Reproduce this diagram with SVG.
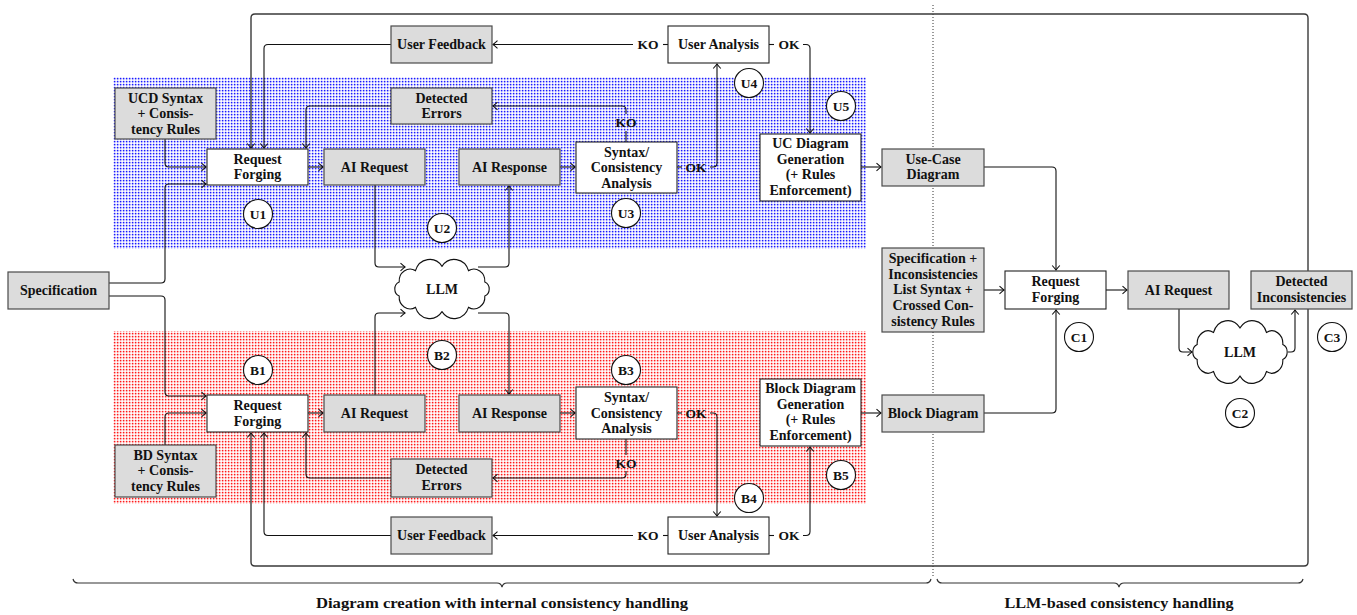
<svg xmlns="http://www.w3.org/2000/svg" width="1357" height="615" viewBox="0 0 1357 615">
<style>
.g rect{fill:#dcdcdc;stroke:#4a4a4a;stroke-width:1.2}
.w rect{fill:#fff;stroke:#222;stroke-width:1.1}
text{font-family:"Liberation Serif",serif;font-weight:bold;font-size:14px;fill:#111;text-anchor:middle}
.c circle{fill:#fff;stroke:#111;stroke-width:1.1}
.c text{font-size:13.5px}
#connectors path{fill:none;stroke:#111;stroke-width:1.1}
#connectors path.a{marker-end:url(#ah)}
#connectors path.loop{stroke:#3a3a3a;stroke-width:1.4}
.lbl{font-size:13.5px}
.cloud{fill:#fff;stroke:#111;stroke-width:1.1}
</style>
<defs>
<marker id="ah" markerUnits="userSpaceOnUse" markerWidth="10" markerHeight="10" viewBox="-6 -5 8 10" refX="0" refY="0" orient="auto">
<path d="M-4.5,-3.8 Q-1.2,-0.8 0,0 Q-1.2,0.8 -4.5,3.8" fill="none" stroke="#111" stroke-width="1.1"/>
</marker>
<pattern id="pb" width="3" height="3" patternUnits="userSpaceOnUse">
<rect width="3" height="3" fill="#fff"/><rect width="3" height="1.3" fill="#d4d4ff"/><rect width="1.3" height="3" fill="#d4d4ff"/><rect width="1.3" height="1.3" fill="#1a1aff"/>
</pattern>
<pattern id="pr" width="3" height="3" patternUnits="userSpaceOnUse">
<rect width="3" height="3" fill="#fff"/><rect width="3" height="1.3" fill="#ffd4d4"/><rect width="1.3" height="3" fill="#ffd4d4"/><rect width="1.3" height="1.3" fill="#ff1a1a"/>
</pattern>
<path id="cl" d="M42.8,6.5 A11,11 0 0 1 26.5,17 A15,15 0 0 1 0,21 A15,15 0 0 1 -26.5,17 A11,11 0 0 1 -42.8,6.5 A7,7 0 0 1 -42.8,-6.5 A11,11 0 0 1 -26.5,-17 A15,15 0 0 1 0,-21 A15,15 0 0 1 26.5,-17 A11,11 0 0 1 42.8,-6.5 A7,7 0 0 1 42.8,6.5 Z"/>
</defs>
<rect width="1357" height="615" fill="#fff"/>

<g id="regions">
<rect x="113" y="77" width="753" height="172" fill="url(#pb)"/>
<rect x="113" y="331" width="753" height="173" fill="url(#pr)"/>
</g>
<line x1="933" y1="5" x2="933" y2="576" stroke="#333" stroke-width="1" stroke-dasharray="1 2"/>

<g id="connectors">
<path class="loop a" d="M1308,271 V18 Q1308,14 1304,14 H255 Q251,14 251,18 V148"/>
<path class="loop a" d="M1308,309 V562 Q1308,566 1304,566 H255 Q251,566 251,562 V433"/>
<path class="a" d="M165,139 V163 Q165,167 169,167 H206"/>
<path class="a" d="M109,283 H161 Q165,283 165,279 V188 Q165,184 169,184 H206"/>
<path class="a" d="M109,296 H161 Q165,296 165,300 V392 Q165,396 169,396 H206"/>
<path class="a" d="M165,445 V417 Q165,413 169,413 H206"/>
<path class="a" d="M308,167 H323"/>
<path class="a" d="M375,185 V263 Q375,267 379,267 H405"/>
<path class="a" d="M478,267 H505 Q509,267 509,263 V186"/>
<path class="a" d="M560,167 H575"/>
<path d="M626,142 V131"/>
<path class="a" d="M626,114 V110 Q626,106 622,106 H493"/>
<path class="a" d="M391,106 H310 Q306,106 306,110 V148"/>
<path d="M677,167 H682"/>
<path class="a" d="M710,167 H713 Q717,167 717,163 V64"/>
<path d="M668,44.5 H663"/>
<path class="a" d="M633,44.5 H493"/>
<path d="M769,44.5 H774"/>
<path class="a" d="M803,44.5 H806 Q810,44.5 810,48.5 V133"/>
<path class="a" d="M391,44.5 H268 Q264,44.5 264,48.5 V148"/>
<path class="a" d="M861,167 H881"/>
<path class="a" d="M984,167 H1052 Q1056,167 1056,171 V270"/>
<path class="a" d="M984,290 H1004"/>
<path class="a" d="M1106,290 H1127"/>
<path class="a" d="M1179,309 V348 Q1179,352 1183,352 H1192"/>
<path class="a" d="M1288,352 H1291 Q1295,352 1295,348 V310"/>
<path class="a" d="M984,413 H1052 Q1056,413 1056,409 V310"/>
<path class="a" d="M861,413 H881"/>
<path class="a" d="M308,413 H323"/>
<path class="a" d="M375,395 V317 Q375,313 379,313 H405"/>
<path class="a" d="M478,313 H505 Q509,313 509,317 V394"/>
<path class="a" d="M560,413 H575"/>
<path d="M626,439 V455"/>
<path class="a" d="M626,471 V474 Q626,478 622,478 H493"/>
<path class="a" d="M391,478 H310 Q306,478 306,474 V433"/>
<path d="M677,413 H682"/>
<path class="a" d="M710,413 H713 Q717,413 717,417 V516"/>
<path d="M668,535.5 H663"/>
<path class="a" d="M633,535.5 H493"/>
<path d="M769,535.5 H774"/>
<path class="a" d="M803,535.5 H806 Q810,535.5 810,531.5 V447"/>
<path class="a" d="M391,535.5 H268 Q264,535.5 264,531.5 V433"/>
</g>

<g id="edge-labels">
<text class="lbl" x="626" y="127">KO</text>
<text class="lbl" x="696" y="171.5">OK</text>
<text class="lbl" x="648" y="49">KO</text>
<text class="lbl" x="789" y="49">OK</text>
<text class="lbl" x="626" y="467.5">KO</text>
<text class="lbl" x="696" y="417.5">OK</text>
<text class="lbl" x="648" y="540">KO</text>
<text class="lbl" x="789" y="540">OK</text>
</g>

<g id="llm-u"><use href="#cl" transform="translate(442,289) scale(1,1.08)" class="cloud"/><text x="442" y="294">LLM</text></g>
<g id="llm-c"><use href="#cl" transform="translate(1240,352) scale(1,1.15)" class="cloud"/><text x="1240" y="357">LLM</text></g>

<g id="ucd-syntax" class="g"><rect x="115" y="88" width="101" height="51"/><text><tspan x="165.5" y="102.5">UCD Syntax</tspan><tspan x="165.5" y="118">+ Consis-</tspan><tspan x="165.5" y="133.5">tency Rules</tspan></text></g>
<g id="rf-u" class="w"><rect x="207" y="149" width="101" height="36"/><text><tspan x="257.5" y="163.5">Request</tspan><tspan x="257.5" y="179">Forging</tspan></text></g>
<g id="aireq-u" class="g"><rect x="324" y="149" width="101" height="36"/><text x="374.5" y="171.5">AI Request</text></g>
<g id="uf-u" class="g"><rect x="391" y="26" width="101" height="37"/><text x="441.5" y="49">User Feedback</text></g>
<g id="de-u" class="g"><rect x="391" y="88" width="101" height="36"/><text><tspan x="441.5" y="102.5">Detected</tspan><tspan x="441.5" y="118">Errors</tspan></text></g>
<g id="airesp-u" class="g"><rect x="459" y="149" width="101" height="36"/><text x="509.5" y="171.5">AI Response</text></g>
<g id="syn-u" class="w"><rect x="576" y="142" width="101" height="51"/><text><tspan x="626.5" y="156.5">Syntax/</tspan><tspan x="626.5" y="172">Consistency</tspan><tspan x="626.5" y="187.5">Analysis</tspan></text></g>
<g id="ua-u" class="w"><rect x="668" y="26" width="101" height="37"/><text x="718.5" y="49">User Analysis</text></g>
<g id="ucgen" class="w"><rect x="760" y="134" width="101" height="67"/><text><tspan x="810.5" y="148">UC Diagram</tspan><tspan x="810.5" y="163.5">Generation</tspan><tspan x="810.5" y="179">(+ Rules</tspan><tspan x="810.5" y="194.5">Enforcement)</tspan></text></g>
<g id="ucdiag" class="g"><rect x="882" y="149" width="102" height="37"/><text><tspan x="933" y="163.5">Use-Case</tspan><tspan x="933" y="179">Diagram</tspan></text></g>
<g id="spec" class="g"><rect x="8" y="272" width="101" height="37"/><text x="58.5" y="295">Specification</text></g>

<g id="rf-b" class="w"><rect x="207" y="395" width="101" height="37"/><text><tspan x="257.5" y="410">Request</tspan><tspan x="257.5" y="425.5">Forging</tspan></text></g>
<g id="aireq-b" class="g"><rect x="324" y="395" width="101" height="37"/><text x="374.5" y="418">AI Request</text></g>
<g id="airesp-b" class="g"><rect x="459" y="395" width="101" height="37"/><text x="509.5" y="418">AI Response</text></g>
<g id="syn-b" class="w"><rect x="576" y="387" width="101" height="52"/><text><tspan x="626.5" y="402">Syntax/</tspan><tspan x="626.5" y="417.5">Consistency</tspan><tspan x="626.5" y="433">Analysis</tspan></text></g>
<g id="bdgen" class="w"><rect x="760" y="379" width="101" height="67"/><text><tspan x="810.5" y="393">Block Diagram</tspan><tspan x="810.5" y="408.5">Generation</tspan><tspan x="810.5" y="424">(+ Rules</tspan><tspan x="810.5" y="439.5">Enforcement)</tspan></text></g>
<g id="bd" class="g"><rect x="882" y="395" width="102" height="37"/><text x="933" y="418">Block Diagram</text></g>
<g id="bd-syntax" class="g"><rect x="115" y="445" width="101" height="52"/><text><tspan x="165.5" y="459.5">BD Syntax</tspan><tspan x="165.5" y="475">+ Consis-</tspan><tspan x="165.5" y="490.5">tency Rules</tspan></text></g>
<g id="de-b" class="g"><rect x="391" y="459" width="101" height="38"/><text><tspan x="441.5" y="474">Detected</tspan><tspan x="441.5" y="489.5">Errors</tspan></text></g>
<g id="uf-b" class="g"><rect x="391" y="517" width="101" height="37"/><text x="441.5" y="540">User Feedback</text></g>
<g id="ua-b" class="w"><rect x="668" y="517" width="101" height="37"/><text x="718.5" y="540">User Analysis</text></g>

<g id="spec-inc" class="g"><rect x="882" y="248" width="102" height="84"/><text><tspan x="933" y="263">Specification +</tspan><tspan x="933" y="278.7">Inconsistencies</tspan><tspan x="933" y="294.4">List Syntax +</tspan><tspan x="933" y="310.1">Crossed Con-</tspan><tspan x="933" y="325.8">sistency Rules</tspan></text></g>
<g id="rf-c" class="w"><rect x="1005" y="271" width="101" height="38"/><text><tspan x="1055.5" y="286">Request</tspan><tspan x="1055.5" y="301.5">Forging</tspan></text></g>
<g id="aireq-c" class="g"><rect x="1128" y="271" width="101" height="38"/><text x="1178.5" y="294.5">AI Request</text></g>
<g id="detinc" class="g"><rect x="1251" y="271" width="101" height="38"/><text><tspan x="1301.5" y="286">Detected</tspan><tspan x="1301.5" y="301.5">Inconsistencies</tspan></text></g>

<g id="steps" class="c">
<g id="u1"><circle cx="258" cy="214" r="14.5"/><text x="258" y="218.5">U1</text></g>
<g id="u2"><circle cx="442" cy="228" r="14.5"/><text x="442" y="232.5">U2</text></g>
<g id="u3"><circle cx="626" cy="213" r="14.5"/><text x="626" y="217.5">U3</text></g>
<g id="u4"><circle cx="749" cy="83" r="14.5"/><text x="749" y="87.5">U4</text></g>
<g id="u5"><circle cx="841" cy="106" r="14.5"/><text x="841" y="110.5">U5</text></g>
<g id="b1"><circle cx="258" cy="370" r="14.5"/><text x="258" y="374.5">B1</text></g>
<g id="b2"><circle cx="442" cy="355" r="14.5"/><text x="442" y="359.5">B2</text></g>
<g id="b3"><circle cx="626" cy="370" r="14.5"/><text x="626" y="374.5">B3</text></g>
<g id="b4"><circle cx="749" cy="498" r="14.5"/><text x="749" y="502.5">B4</text></g>
<g id="b5"><circle cx="841" cy="475" r="14.5"/><text x="841" y="479.5">B5</text></g>
<g id="c1"><circle cx="1079" cy="337" r="14.5"/><text x="1079" y="341.5">C1</text></g>
<g id="c2"><circle cx="1240" cy="413" r="14.5"/><text x="1240" y="417.5">C2</text></g>
<g id="c3"><circle cx="1332" cy="337" r="14.5"/><text x="1332" y="341.5">C3</text></g>
</g>

<g id="braces" fill="none" stroke="#333" stroke-width="1.2">
<path d="M73,579 Q74,583 78,583 H497 Q501,583 502,587 Q503,583 507,583 H926 Q930,583 931,579"/>
<path d="M937,579 Q938,583 942,583 H1114 Q1118,583 1119,587 Q1120,583 1124,583 H1298 Q1302,583 1303,579"/>
</g>
<g id="brace-labels">
<text x="502" y="608" textLength="372" lengthAdjust="spacingAndGlyphs" style="font-size:14.5px">Diagram creation with internal consistency handling</text>
<text x="1119" y="608" style="font-size:14.5px" textLength="229" lengthAdjust="spacingAndGlyphs">LLM-based consistency handling</text>
</g>
</svg>
